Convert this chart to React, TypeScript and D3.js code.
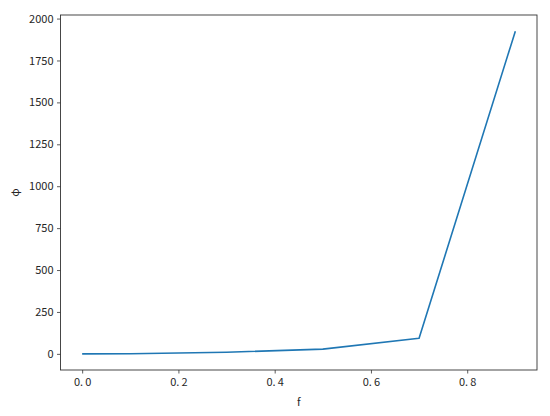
import React, { useEffect, useRef } from 'react';
import * as d3 from 'd3';

const fValues = [0, 0.1, 0.3, 0.5, 0.7, 0.9];
const phiValues = [0, 1, 10, 28, 93, 1925];
const xTicks = [0, 0.2, 0.4, 0.6, 0.8];
const yTicks = [0, 250, 500, 750, 1000, 1250, 1500, 1750, 2000];

export default function App() {
    const svgRef = useRef<SVGSVGElement>(null);

    useEffect(() => {
        const width = 550;
        const height = 416;
        const margin = { top: 15, right: 13, bottom: 46, left: 60.5 };
        const font = '"Noto Sans CJK SC", "DejaVu Sans", sans-serif';

        const svg = d3.select(svgRef.current)
            .attr('width', width)
            .attr('height', height);
        svg.selectAll('*').remove();

        const xScale = d3.scaleLinear()
            .domain([-0.045, 0.945])
            .range([margin.left, width - margin.right]);

        const yMin = 0, yMax = d3.max(phiValues)!;
        const pad = (yMax - yMin) * 0.05;
        const yScale = d3.scaleLinear()
            .domain([yMin - pad, yMax + pad])
            .range([height - margin.bottom, margin.top]);

        const data = fValues.map((f, i) => ({ f, phi: phiValues[i] }));

        const line = d3.line<{ f: number; phi: number }>()
            .x(d => xScale(d.f))
            .y(d => yScale(d.phi));

        svg.append('path')
            .datum(data)
            .attr('fill', 'none')
            .attr('stroke', '#1f77b4')
            .attr('stroke-width', 1.6)
            .attr('stroke-linejoin', 'round')
            .attr('d', line);

        const xAxis = svg.append('g')
            .attr('transform', `translate(0,${height - margin.bottom})`)
            .call(d3.axisBottom(xScale).tickValues(xTicks).tickSize(3.5).tickSizeOuter(0)
                .tickFormat(d => d3.format('.1f')(d as number).replace('.', '.\u2009')));

        const yAxis = svg.append('g')
            .attr('transform', `translate(${margin.left},0)`)
            .call(d3.axisLeft(yScale).tickValues(yTicks).tickSize(3.5).tickSizeOuter(0)
                .tickFormat(d3.format('d')));

        [xAxis, yAxis].forEach(g => {
            g.select('.domain').remove();
            g.selectAll('line').attr('stroke', '#333').attr('stroke-width', 0.8);
            g.selectAll('text')
                .attr('fill', '#262626')
                .style('font-family', font)
                .style('font-size', '11px');
        });
        xAxis.selectAll('text').attr('dy', '0.71em').attr('y', 8);
        yAxis.selectAll('text').attr('x', -7);

        svg.append('rect')
            .attr('x', margin.left)
            .attr('y', margin.top)
            .attr('width', width - margin.left - margin.right)
            .attr('height', height - margin.top - margin.bottom)
            .attr('fill', 'none')
            .attr('stroke', '#333')
            .attr('stroke-width', 0.9);

        svg.append('text')
            .attr('x', (margin.left + width - margin.right) / 2)
            .attr('y', 406)
            .attr('text-anchor', 'middle')
            .attr('fill', '#262626')
            .style('font-family', font)
            .style('font-size', '11px')
            .text('f');

        svg.append('text')
            .attr('transform', `translate(19,${(margin.top + height - margin.bottom) / 2}) rotate(-90)`)
            .attr('text-anchor', 'middle')
            .attr('fill', '#262626')
            .style('font-family', font)
            .style('font-size', '11px')
            .text('φ');
    }, []);

    return <svg ref={svgRef} style={{ position: 'absolute', left: 0, top: 0, background: '#fff' }}></svg>;
}
